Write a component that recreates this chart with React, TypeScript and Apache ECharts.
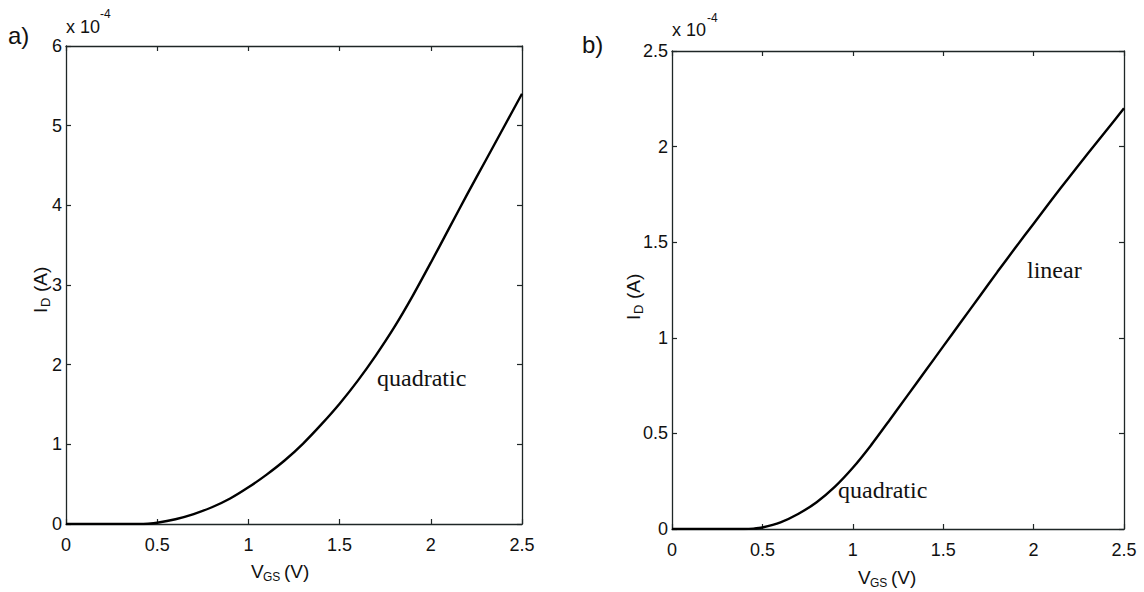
import React, { useEffect, useRef } from "react";
import * as echarts from "echarts";

// Panel a) : I_D (x 1e-4 A) vs V_GS (V)
const vgsA = [0, 0.1, 0.2, 0.3, 0.4, 0.45, 0.5, 0.6, 0.7, 0.8, 0.9, 1.0, 1.1, 1.2, 1.3, 1.4, 1.5, 1.6, 1.7, 1.8, 1.9, 2.0, 2.1, 2.2, 2.3, 2.4, 2.5];
const idA = [0, 0, 0, 0, 0, 0.004, 0.015, 0.06, 0.125, 0.21, 0.32, 0.46, 0.62, 0.8, 1.01, 1.25, 1.51, 1.8, 2.12, 2.47, 2.86, 3.28, 3.71, 4.14, 4.56, 4.98, 5.4];

// Panel b) : I_D (x 1e-4 A) vs V_GS (V)
const vgsB = [0, 0.1, 0.2, 0.3, 0.4, 0.45, 0.5, 0.6, 0.7, 0.8, 0.9, 1.0, 1.1, 1.2, 1.3, 1.4, 1.5, 1.6, 1.7, 1.8, 1.9, 2.0, 2.1, 2.2, 2.3, 2.4, 2.5];
const idB = [0, 0, 0, 0, 0, 0.002, 0.008, 0.035, 0.08, 0.14, 0.22, 0.32, 0.437, 0.565, 0.695, 0.825, 0.955, 1.085, 1.215, 1.345, 1.472, 1.597, 1.722, 1.844, 1.964, 2.082, 2.2];

const xTicks = { min: 0, max: 2.5, interval: 0.5 };
const yTicksA = { min: 0, max: 6, interval: 1 };
const yTicksB = { min: 0, max: 2.5, interval: 0.5 };

const panelLabels = ["a)", "b)"];
const curveNotes = ["quadratic", "linear", "quadratic"];

const SANS = "'Liberation Sans', Arial, Helvetica, sans-serif";
const SERIF = "'Liberation Serif', 'Times New Roman', serif";
const AXC = "#1e2626";

function pairs(xs: number[], ys: number[]) {
  return xs.map((x, i) => [x, ys[i]]);
}

function xAxes(grid: number) {
  const base = {
    type: "value",
    gridIndex: grid,
    min: xTicks.min,
    max: xTicks.max,
    interval: xTicks.interval,
    splitLine: { show: false },
    axisLine: { show: true, onZero: false, lineStyle: { color: AXC, width: 1.3 } },
    axisTick: { show: true, inside: true, length: 5, lineStyle: { color: AXC, width: 1.2 } },
  };
  return [
    {
      ...base,
      position: "bottom",
      axisLabel: { show: true, color: "#111", fontSize: 18, fontFamily: SANS, margin: 12, formatter: (v: number) => String(v) },
    },
    { ...base, position: "top", axisLabel: { show: false } },
  ];
}

function yAxes(grid: number, t: { min: number; max: number; interval: number }) {
  const base = {
    type: "value",
    gridIndex: grid,
    min: t.min,
    max: t.max,
    interval: t.interval,
    splitLine: { show: false },
    axisLine: { show: true, onZero: false, lineStyle: { color: AXC, width: 1.3 } },
    axisTick: { show: true, inside: true, length: 5, lineStyle: { color: AXC, width: 1.2 } },
  };
  return [
    {
      ...base,
      position: "left",
      axisLabel: { show: true, color: "#111", fontSize: 18, fontFamily: SANS, margin: 4, formatter: (v: number) => String(v) },
    },
    { ...base, position: "right", axisLabel: { show: false } },
  ];
}

function txt(text: string, x: number, y: number, size: number, font: string, align = "left", vAlign = "middle") {
  return {
    type: "text",
    x,
    y,
    silent: true,
    style: { text, fontSize: size, fontFamily: font, fill: "#111", textAlign: align, textVerticalAlign: vAlign },
  };
}

function yName(cx: number, cy: number) {
  return {
    type: "group",
    x: cx,
    y: cy,
    rotation: Math.PI / 2,
    children: [
      txt("I", -25, 0, 19, SANS),
      txt("D", -19, 5, 13, SANS),
      txt("(A)", -4, 0, 19, SANS),
    ],
  };
}

function xName(x: number, y: number) {
  return {
    type: "group",
    x,
    y,
    children: [txt("V", 0, 0, 19, SANS), txt("GS", 12, 6, 12, SANS), txt("(V)", 33, 0, 19, SANS)],
  };
}

export default function App() {
  const ref = useRef<HTMLDivElement>(null);
  useEffect(() => {
    if (!ref.current) return;
    const chart = echarts.init(ref.current, undefined, { renderer: "svg" });
    const lineSeries = (xi: number, yi: number, data: number[][]) => ({
      type: "line",
      xAxisIndex: xi,
      yAxisIndex: yi,
      data,
      showSymbol: false,
      smooth: 0.2,
      lineStyle: { color: "#000", width: 2.4 },
    });
    const option = {
      animation: false,
      backgroundColor: "#ffffff",
      grid: [
        { left: 66, top: 46, width: 456, height: 478 },
        { left: 672, top: 51, width: 452, height: 478 },
      ],
      xAxis: [...xAxes(0), ...xAxes(1)],
      yAxis: [...yAxes(0, yTicksA), ...yAxes(1, yTicksB)],
      series: [lineSeries(0, 0, pairs(vgsA, idA)), lineSeries(2, 2, pairs(vgsB, idB))],
      graphic: [
        txt(panelLabels[0], 8, 35, 24, SANS),
        txt(panelLabels[1], 582, 44, 24, SANS),
        txt("x 10", 66, 27, 18, SANS),
        txt("-4", 100, 14, 12, SANS),
        txt("x 10", 672, 30, 18, SANS),
        txt("-4", 707, 18, 12, SANS),
        yName(40, 288),
        yName(633, 295),
        xName(251, 571),
        xName(858, 577),
        txt(curveNotes[0], 377, 378, 24, SERIF),
        txt(curveNotes[1], 1027, 270, 24, SERIF),
        txt(curveNotes[2], 838, 490, 24, SERIF),
      ],
    };
    chart.setOption(option as any);
    return () => chart.dispose();
  }, []);
  return <div ref={ref} style={{ position: "absolute", left: 0, top: 0, width: 1144, height: 592 }} />;
}
